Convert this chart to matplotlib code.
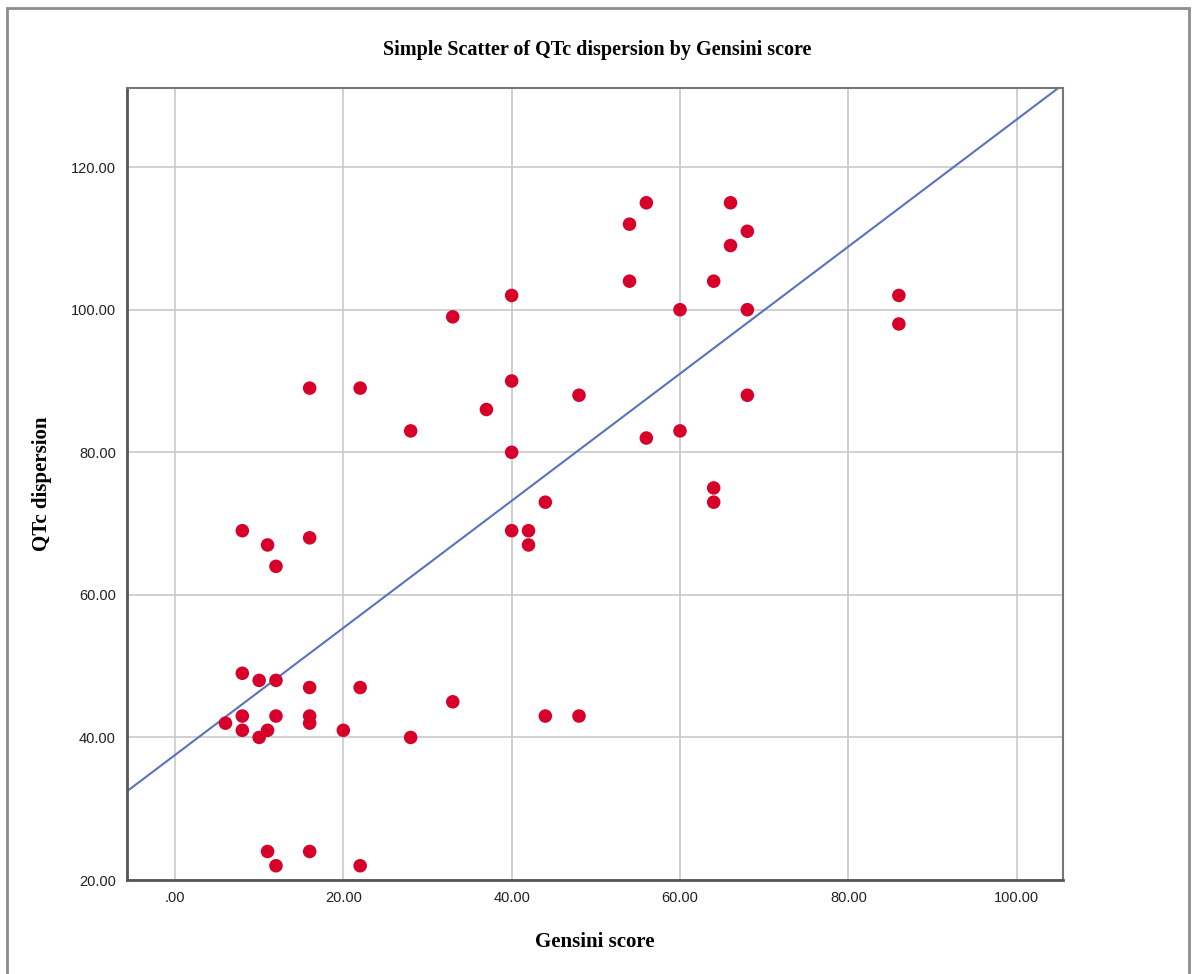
import numpy as np
import matplotlib.pyplot as plt
from matplotlib.patches import Rectangle

# Gensini score (x) and QTc dispersion (y)
gensini = [8, 11, 12, 16, 16, 22, 28, 33, 40, 37, 40, 40, 40, 42, 42, 44, 48,
           54, 56, 54, 60, 56, 60, 64, 64, 64, 66, 66, 68, 68, 68, 86, 86,
           8, 10, 12, 16, 22, 33, 6, 8, 8, 10, 11, 12, 16, 16, 20, 28, 44, 48,
           11, 12, 16, 22]
qtc = [69, 67, 64, 68, 89, 89, 83, 99, 102, 86, 90, 80, 69, 69, 67, 73, 88,
       112, 115, 104, 100, 82, 83, 75, 73, 104, 115, 109, 111, 100, 88, 102, 98,
       49, 48, 48, 47, 47, 45, 42, 43, 41, 40, 41, 43, 43, 42, 41, 40, 43, 43,
       24, 22, 24, 22]

x_ticks = [0, 20, 40, 60, 80, 100]
y_ticks = [20, 40, 60, 80, 100, 120]

x = np.array(gensini, dtype=float)
y = np.array(qtc, dtype=float)
slope, intercept = np.polyfit(x, y, 1)  # linear fit line

fig = plt.figure(figsize=(11.95, 9.74), dpi=100)
ax = fig.add_axes([127 / 1195, 1 - 880 / 974, (1063 - 127) / 1195, (880 - 88) / 974])

# outer frame like the SPSS output window
fig.patches.append(Rectangle((7 / 1195, -0.01), (1189 - 7) / 1195, 1 - 8 / 974 + 0.01,
                             transform=fig.transFigure, fill=False,
                             edgecolor="#8c8c8c", linewidth=2))

ax.set_xlim(-5.7, 105.5)
ax.set_ylim(20, 131.1)
ax.set_xticks(x_ticks)
ax.set_yticks(y_ticks)
ax.set_xticklabels([".00" if t == 0 else f"{t:.2f}" for t in x_ticks])
ax.set_yticklabels([f"{t:.2f}" for t in y_ticks])
ax.tick_params(length=0, labelsize=10.5, colors="#222222", pad=8)
for lab in ax.get_xticklabels() + ax.get_yticklabels():
    lab.set_family("Liberation Sans")

ax.grid(True, color="#c8c8c8", linewidth=1.2)
ax.set_axisbelow(True)
for side in ["left", "bottom"]:
    ax.spines[side].set_color("#555555")
    ax.spines[side].set_linewidth(2)
for side in ["top", "right"]:
    ax.spines[side].set_color("#777777")
    ax.spines[side].set_linewidth(1.5)

xs = np.array(ax.get_xlim())
ax.plot(xs, intercept + slope * xs, color="#5b72bd", linewidth=1.5, zorder=2)
ax.scatter(x, y, s=95, color="#d6002a", edgecolors="none", zorder=3)

fig.text(0.5, 1 - 50 / 974, "Simple Scatter of QTc dispersion by Gensini score",
         ha="center", va="center", family="Liberation Serif", weight="bold", fontsize=14.5)
fig.text(595 / 1195, 1 - 942 / 974, "Gensini score", ha="center", va="center",
         family="Liberation Serif", weight="bold", fontsize=15)
fig.text(42 / 1195, 1 - 484 / 974, "QTc dispersion", ha="center", va="center", rotation=90,
         family="Liberation Serif", weight="bold", fontsize=15)

fig.savefig("out.png", dpi=100)
